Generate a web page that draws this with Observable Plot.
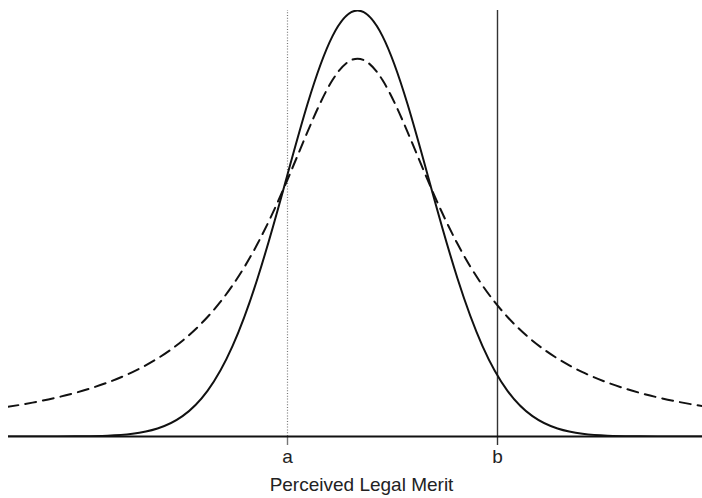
<!DOCTYPE html>
<html>
<head>
<meta charset="utf-8">
<script src="https://cdn.jsdelivr.net/npm/d3@7"></script>
<script src="https://cdn.jsdelivr.net/npm/@observablehq/plot@0.6"></script>
<style>
  html, body { margin: 0; padding: 0; background: #fff; }
  #chart svg { display: block; }
</style>
</head>
<body>
<div id="chart"></div>
<script>
// Perceived legal merit positions (0 = centre of the distributions)
const merit = [-3.5,-3.25,-3,-2.75,-2.5,-2.25,-2,-1.75,-1.5,-1.25,-1,-0.75,-0.5,-0.25,0,
               0.25,0.5,0.75,1,1.25,1.5,1.75,2,2.25,2.5,2.75,3,3.25,3.5];
// Solid curve (narrow distribution), relative height
const solidDensity = [0.000005,0.00003,0.00013,0.00055,0.0020,0.0066,0.0189,0.0479,0.1073,0.2123,0.3709,0.5724,0.7804,0.9399,1,
                      0.9399,0.7804,0.5724,0.3709,0.2123,0.1073,0.0479,0.0189,0.0066,0.0020,0.00055,0.00013,0.00003,0.000005];
// Dashed curve (heavy-tailed distribution)
const dashedDensity = [0.0694,0.0795,0.0919,0.1073,0.1266,0.1512,0.1831,0.2249,0.2805,0.3545,0.4523,0.5757,0.7151,0.8367,0.887,
                       0.8367,0.7151,0.5757,0.4523,0.3545,0.2805,0.2249,0.1831,0.1512,0.1266,0.1073,0.0919,0.0795,0.0694];
// Decision thresholds
const thresholdNames = ["a", "b"];
const thresholdValues = [-0.70, 1.40];
const xLabel = "Perceived Legal Merit";

const solid = merit.map((x, i) => ({x, y: solidDensity[i]}));
const dashed = merit.map((x, i) => ({x, y: dashedDensity[i]}));

const font = "'Liberation Sans', Arial, Helvetica, sans-serif";

const chart = Plot.plot({
  width: 702,
  height: 498,
  marginLeft: 8,
  marginRight: 0,
  marginTop: 10,
  marginBottom: 62,
  style: {fontFamily: font, background: "#fff", color: "#222"},
  x: {domain: [-3.49, 3.45]},
  y: {domain: [0, 1], axis: null},
  marks: [
    Plot.ruleX([thresholdValues[0]], {y1: 0, y2: 1, stroke: "#777", strokeWidth: 1.2, strokeDasharray: "1,1.8"}),
    Plot.ruleX([thresholdValues[1]], {y1: 0, y2: 1, stroke: "#333", strokeWidth: 1.4}),
    Plot.ruleX(thresholdValues, {y1: -0.0211, y2: 0, stroke: (d, i) => i === 0 ? "#777" : "#333", strokeWidth: 1.4}),
    Plot.line(dashed, {x: "x", y: "y", curve: "natural", stroke: "#111", strokeWidth: 2, strokeDasharray: "11,7", clip: true}),
    Plot.line(solid, {x: "x", y: "y", curve: "natural", stroke: "#111", strokeWidth: 2, clip: true}),
    Plot.ruleY([0], {stroke: "#111", strokeWidth: 2}),
    Plot.axisX({
      ticks: thresholdValues,
      tickFormat: (d) => thresholdNames[thresholdValues.indexOf(d)],
      tickSize: 0,
      tickPadding: 13,
      fontSize: 19,
      label: null,
      fill: "#222"
    }),
    Plot.text([xLabel], {frameAnchor: "bottom", dy: 54, dx: 6, fontSize: 19, fill: "#222", text: d => d})
  ]
});

document.getElementById("chart").appendChild(chart);
</script>
</body>
</html>
